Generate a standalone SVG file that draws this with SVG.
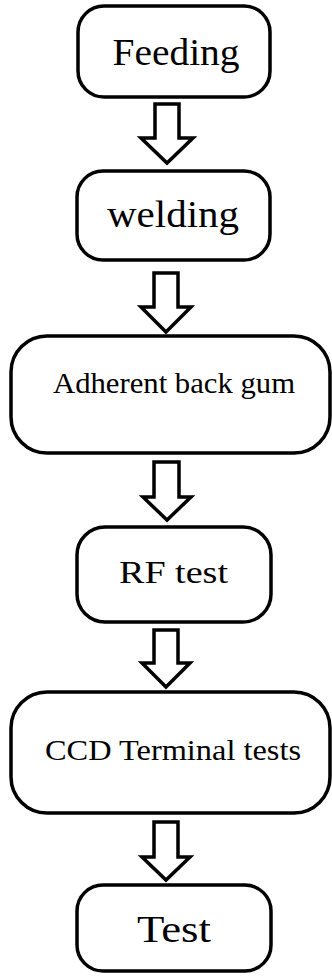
<svg xmlns="http://www.w3.org/2000/svg" width="332" height="977" viewBox="0 0 332 977">
<style>
.box{fill:#fff;stroke:#000;stroke-width:3.5}
.arr{fill:#fff;stroke:#000;stroke-width:3.5;stroke-linejoin:miter}
text{font-family:"Liberation Serif","Times New Roman",serif;fill:#000;text-anchor:middle}
</style>
<rect width="332" height="977" fill="#fff"/>
<g id="connectors">
<path class="arr" d="M155,104 H179 V138 H193 L167,163 L141,138 H155 Z"/>
<path class="arr" d="M154,273 H178 V307 H191 L166,332 L141,307 H154 Z"/>
<path class="arr" d="M154,462 H179 V497 H191 L167,520 L143,497 H154 Z"/>
<path class="arr" d="M154,630 H178 V663 H190 L166,687 L142,663 H154 Z"/>
<path class="arr" d="M154,822 H178 V857 H190 L166,880 L142,857 H154 Z"/>
</g>
<g id="n1"><rect class="box" x="78" y="6" width="192" height="91" rx="26"/><text x="176" y="65" font-size="37" textLength="127" lengthAdjust="spacingAndGlyphs">Feeding</text></g>
<g id="n2"><rect class="box" x="77" y="171" width="193" height="89" rx="26"/><text x="173" y="227" font-size="38" textLength="132" lengthAdjust="spacingAndGlyphs">welding</text></g>
<g id="n3"><rect class="box" x="11" y="336" width="319" height="117" rx="36"/><text x="174" y="393" font-size="29" textLength="242" lengthAdjust="spacingAndGlyphs">Adherent back gum</text></g>
<g id="n4"><rect class="box" x="77" y="527" width="194" height="95" rx="28"/><text x="173.5" y="583" font-size="31" textLength="109" lengthAdjust="spacingAndGlyphs">RF test</text></g>
<g id="n5"><rect class="box" x="11" y="692" width="319" height="121" rx="36"/><text x="173" y="760" font-size="29" textLength="256" lengthAdjust="spacingAndGlyphs">CCD Terminal tests</text></g>
<g id="n6"><rect class="box" x="77" y="885" width="194" height="86" rx="26"/><text x="174" y="942" font-size="37" textLength="74" lengthAdjust="spacingAndGlyphs">Test</text></g>
</svg>
